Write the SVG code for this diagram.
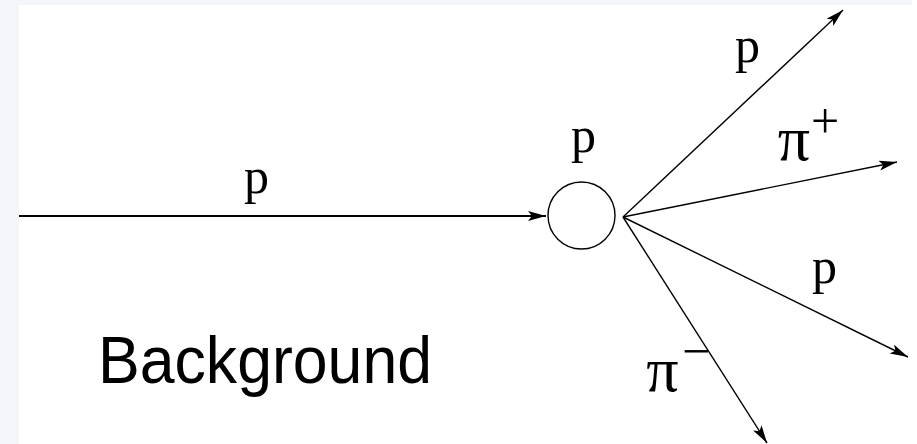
<svg xmlns="http://www.w3.org/2000/svg" width="917" height="444" viewBox="0 0 917 444">
  <style>
    .lbl { font-family: "Liberation Serif", "Times New Roman", serif; font-size: 50px; fill: #000; }
    .pi { font-family: "Liberation Serif", "Times New Roman", serif; font-size: 64px; fill: #000; }
    .sup { font-family: "Liberation Serif", "Times New Roman", serif; font-size: 50px; fill: #000; }
    .title { font-family: "Comic Sans MS", "Liberation Sans", sans-serif; font-size: 66px; fill: #000; }
    .track { stroke: #000; stroke-width: 1.4; fill: none; }
  </style>
  <defs>
    <marker id="arr" markerUnits="userSpaceOnUse" markerWidth="20" markerHeight="12" refX="18" refY="5" orient="auto">
      <path d="M0,0 L18,5 L0,10 L4,5 Z" fill="#000"/>
    </marker>
  </defs>
  <rect x="0" y="0" width="917" height="444" fill="#ffffff"/>
  <rect x="0" y="0" width="19" height="444" fill="#f4f5f8"/>
  <rect x="0" y="0" width="912" height="5" fill="#f4f5f8"/>

  <g id="connectors">
    <line x1="19" y1="216" x2="546" y2="216" stroke="#000" stroke-width="2" marker-end="url(#arr)"/>
    <line class="track" x1="623" y1="217" x2="843" y2="10" marker-end="url(#arr)"/>
    <line class="track" x1="623" y1="217" x2="897" y2="162" marker-end="url(#arr)"/>
    <line class="track" x1="623" y1="217" x2="908" y2="357" marker-end="url(#arr)"/>
    <line class="track" x1="623" y1="217" x2="767" y2="443" marker-end="url(#arr)"/>
  </g>

  <g id="target">
    <circle cx="581.5" cy="215.5" r="33.5" fill="none" stroke="#000" stroke-width="1.4"/>
    <text class="lbl" x="583.5" y="152" text-anchor="middle">p</text>
  </g>

  <g id="beam-label">
    <text class="lbl" x="256.5" y="193" text-anchor="middle">p</text>
  </g>
  <g id="out-p1">
    <text class="lbl" x="747.5" y="62" text-anchor="middle">p</text>
  </g>
  <g id="out-piplus">
    <text class="pi" x="794" y="160" text-anchor="middle">π</text>
    <text class="sup" x="825" y="138" text-anchor="middle">+</text>
  </g>
  <g id="out-p2">
    <text class="lbl" x="824.5" y="283" text-anchor="middle">p</text>
  </g>
  <g id="out-piminus">
    <text class="pi" x="662.5" y="391" text-anchor="middle">π</text>
    <text class="sup" x="696" y="368" text-anchor="middle">−</text>
  </g>

  <g id="title">
    <text class="title" x="98" y="383" textLength="334" lengthAdjust="spacingAndGlyphs">Background</text>
  </g>
</svg>
